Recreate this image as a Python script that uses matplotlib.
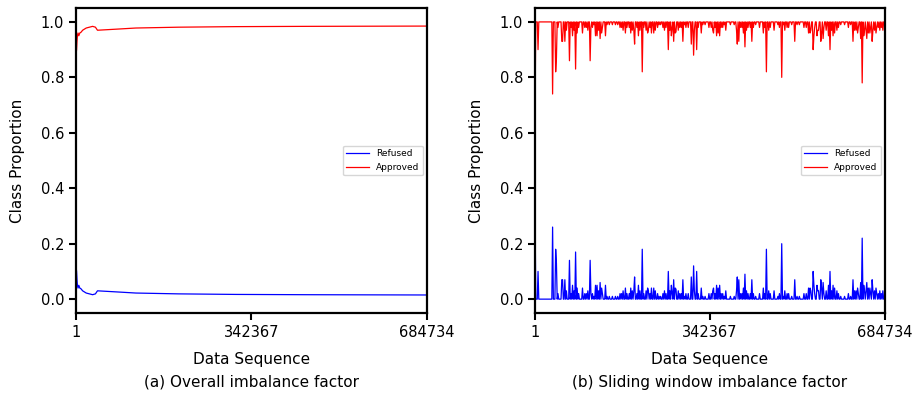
import matplotlib.pyplot as plt
import numpy as np

# (a) overall imbalance factor
overall_x = [1, 1200, 2000, 2800, 4000, 5500, 7500, 10000, 13000, 20000, 32500, 38000, 42000,
             80000, 117000, 200000, 313000, 450000, 684734]
overall_refused = [0.12, 0.10, 0.07, 0.05, 0.04, 0.05, 0.04, 0.037, 0.03, 0.022, 0.016, 0.019, 0.030,
                   0.026, 0.022, 0.019, 0.017, 0.016, 0.015]

# (b) sliding window: refused share is 0 except at these spikes
window_start = 0.36
spike_x = [6550, 34070, 40620, 42590, 51770, 53730, 58970, 67490, 73390, 79940,
           86000, 93050, 100000, 107460, 112000, 117950, 121220, 127780, 132000, 137600,
           145000, 152000, 161850, 170000, 176260, 184780, 190000, 195270, 202470, 209680,
           213000, 217540, 222130, 227370, 231960, 240000, 246000, 252930, 257000, 261450,
           266690, 271270, 276520, 283000, 289620, 296000, 305350, 309940, 317140, 325660,
           333000, 340000, 345320, 350000, 355150, 361700, 367000, 373490, 382000, 390000,
           396430, 399700, 405000, 410840, 417000, 424600, 432000, 440000, 446880, 453430,
           461000, 468500, 475000, 482920, 489470, 496000, 503000, 509130, 518000, 527000,
           535340, 540000, 543860, 548000, 551720, 555000, 559580, 563510, 570000, 577930,
           583170, 591040, 598000, 606000, 614000, 622490, 628000, 633000, 636910, 640180,
           645000, 650010, 655000, 659840, 664000, 669670, 675000, 681460]
spike_val = [0.10, 0.26, 0.18, 0.13, 0.07, 0.07, 0.07, 0.14, 0.05, 0.17,
             0.02, 0.04, 0.02, 0.14, 0.02, 0.05, 0.05, 0.06, 0.02, 0.05,
             0.01, 0.01, 0.01, 0.02, 0.04, 0.02, 0.03, 0.08, 0.05, 0.18,
             0.02, 0.03, 0.03, 0.04, 0.04, 0.02, 0.01, 0.03, 0.02, 0.10,
             0.05, 0.07, 0.036, 0.02, 0.07, 0.02, 0.08, 0.12, 0.10, 0.04,
             0.01, 0.02, 0.02, 0.04, 0.05, 0.05, 0.02, 0.03, 0.01, 0.01,
             0.08, 0.07, 0.02, 0.09, 0.02, 0.07, 0.01, 0.02, 0.04, 0.18,
             0.02, 0.03, 0.01, 0.20, 0.03, 0.02, 0.01, 0.07, 0.01, 0.02,
             0.04, 0.03, 0.10, 0.02, 0.05, 0.03, 0.07, 0.06, 0.03, 0.10,
             0.05, 0.03, 0.01, 0.01, 0.02, 0.07, 0.03, 0.02, 0.06, 0.22,
             0.03, 0.06, 0.04, 0.07, 0.03, 0.02, 0.03, 0.03]

# smaller blips between the main spikes
minor_x = [45000, 62000, 70000, 76000, 83000, 97000, 104000, 110000, 115000, 124000,
           130000, 141000, 158000, 166000, 173000, 180000, 187000, 193000, 199000, 206000,
           220000, 225000, 235000, 243000, 250000, 264000, 269000, 274000, 280000, 286000,
           293000, 300000, 312000, 320000, 329000, 348000, 353000, 358000, 364000, 370000,
           394000, 402000, 408000, 414000, 421000, 428000, 450000, 457000, 479000, 486000,
           493000, 513000, 531000, 538000, 546000, 553000, 561000, 566000, 574000, 580000,
           587000, 594000, 618000, 625000, 631000, 643000, 648000, 652000, 657000, 662000,
           667000, 672000, 678000]
minor_val = [0.02, 0.03, 0.02, 0.03, 0.04, 0.02, 0.03, 0.02, 0.01, 0.03,
             0.04, 0.01, 0.01, 0.02, 0.03, 0.02, 0.04, 0.03, 0.02, 0.03,
             0.04, 0.02, 0.03, 0.01, 0.02, 0.03, 0.02, 0.04, 0.03, 0.02,
             0.01, 0.02, 0.03, 0.02, 0.01, 0.03, 0.02, 0.04, 0.02, 0.01,
             0.03, 0.02, 0.04, 0.03, 0.02, 0.02, 0.02, 0.03, 0.02, 0.01,
             0.02, 0.01, 0.02, 0.04, 0.05, 0.03, 0.04, 0.02, 0.05, 0.03,
             0.04, 0.02, 0.01, 0.03, 0.04, 0.05, 0.03, 0.04, 0.02, 0.03,
             0.04, 0.02, 0.02]

n_total = 684734
ticks = [1, 342367, 684734]

# build the sliding window series
win_x = np.arange(1, n_total + 1500, 1500)
win_x[-1] = n_total
win_refused = np.zeros(len(win_x))
win_refused[0] = window_start
for sx, sv in zip(spike_x + minor_x, spike_val + minor_val):
    i = int(np.argmin(np.abs(win_x - sx)))
    win_refused[i] = max(win_refused[i], sv)

overall_refused = np.array(overall_refused)

fig = plt.figure(figsize=(9.23, 3.95), dpi=100)
ax1 = fig.add_axes([0.0823, 0.2076, 0.380, 0.772])
ax2 = fig.add_axes([0.5796, 0.2076, 0.379, 0.772])

ax1.plot(overall_x, overall_refused, color='#0000ff', lw=0.9, label='Refused')
ax1.plot(overall_x, 1 - overall_refused, color='#ff0000', lw=0.9, label='Approved')

ax2.plot(win_x, win_refused, color='#0000ff', lw=0.9, label='Refused')
ax2.plot(win_x, 1 - win_refused, color='#ff0000', lw=0.9, label='Approved')

captions = ['(a) Overall imbalance factor', '(b) Sliding window imbalance factor']
for ax, cap in zip([ax1, ax2], captions):
    ax.set_xlim(1, n_total)
    ax.set_ylim(-0.05, 1.05)
    ax.set_xticks(ticks)
    ax.set_xticklabels([str(t) for t in ticks])
    ax.set_yticks([0.0, 0.2, 0.4, 0.6, 0.8, 1.0])
    ax.tick_params(width=1.5, length=5, labelsize=10.5)
    for s in ax.spines.values():
        s.set_linewidth(1.6)
    ax.set_xlabel('Data Sequence', fontsize=11, labelpad=9)
    ax.set_ylabel('Class Proportion', fontsize=11, labelpad=11)
    ax.legend(loc='center right', fontsize=6.5, handlelength=2.5, borderaxespad=0.4)
    pos = ax.get_position()
    fig.text((pos.x0 + pos.x1) / 2, 0.032, cap, ha='center', va='center', fontsize=11)

fig.savefig('out.png', dpi=100)
